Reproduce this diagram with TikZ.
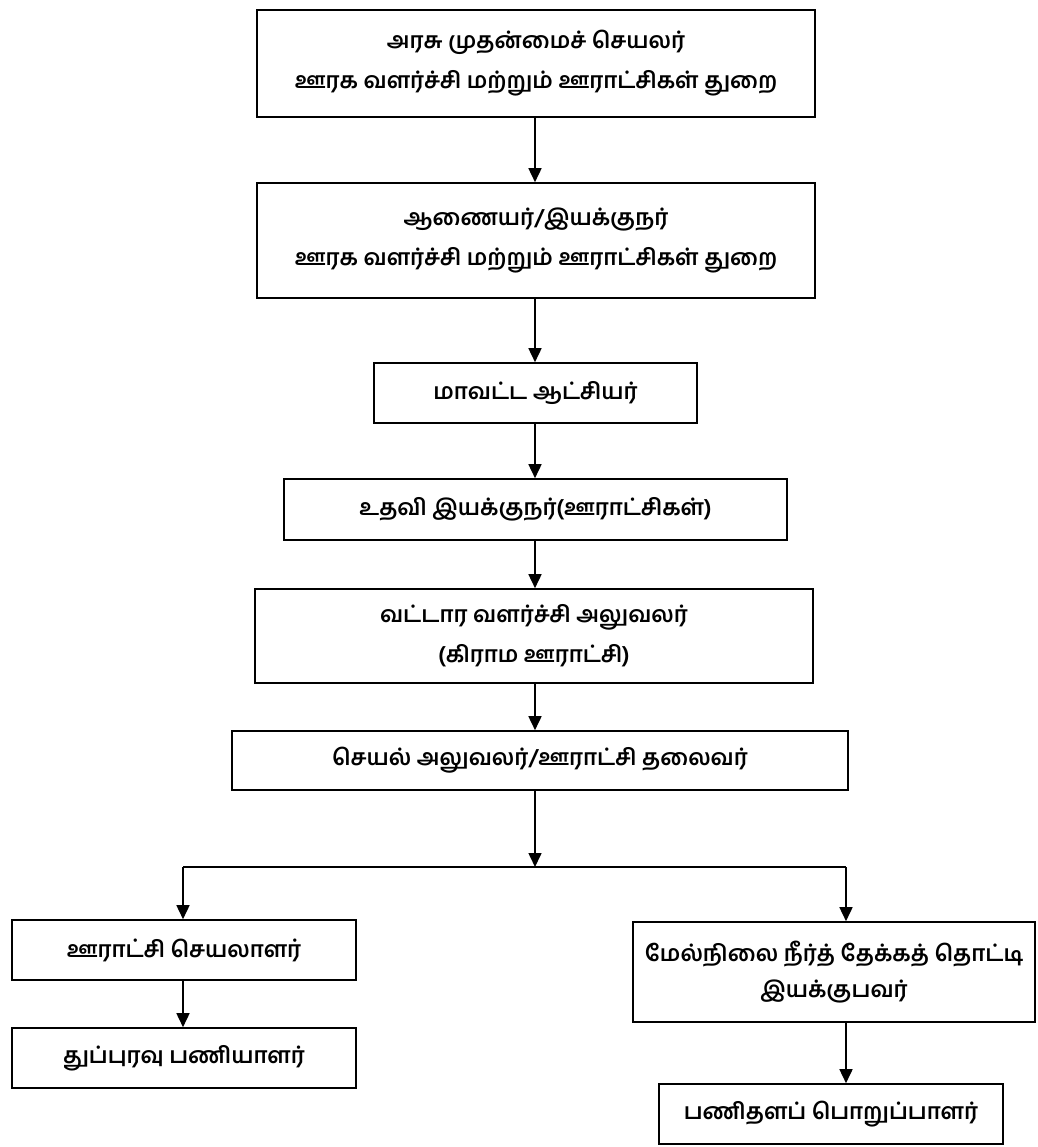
\documentclass[tikz,border=0pt]{standalone}
\usepackage{fontspec}
\setmainfont[Script=Tamil]{Hind Madurai}
\usetikzlibrary{arrows.meta}
\begin{document}
\begin{tikzpicture}[x=1pt,y=-1pt,
  box/.style={draw,line width=1.6pt,inner sep=0pt,align=center,
    font=\fontsize{22.5}{40}\selectfont\bfseries},
  conn/.style={line width=1.6pt,-{Triangle[length=14pt,width=13pt]}},
  plain/.style={line width=1.6pt}]
\useasboundingbox (0,0) rectangle (1037,1147);
\node[box,minimum width=558pt,minimum height=107pt] (b1) at (536,63.5)
  {அரசு முதன்மைச் செயலர்\\ஊரக வளர்ச்சி மற்றும் ஊராட்சிகள் துறை};
\node[box,minimum width=558pt,minimum height=115pt] (b2) at (536,240.5)
  {ஆணையர்/இயக்குநர்\\ஊரக வளர்ச்சி மற்றும் ஊராட்சிகள் துறை};
\node[box,minimum width=323pt,minimum height=60pt] (b3) at (535.5,393)
  {மாவட்ட ஆட்சியர்};
\node[box,minimum width=503pt,minimum height=61pt] (b4) at (535.5,509.5)
  {உதவி இயக்குநர்(ஊராட்சிகள்)};
\node[box,minimum width=558pt,minimum height=94pt] (b5) at (534,636)
  {வட்டார வளர்ச்சி அலுவலர்\\(கிராம ஊராட்சி)};
\node[box,minimum width=616pt,minimum height=59pt] (b6) at (540,760.5)
  {செயல் அலுவலர்/ஊராட்சி தலைவர்};
\node[box,minimum width=344pt,minimum height=60pt] (b7) at (184,950)
  {ஊராட்சி செயலாளர்};
\node[box,minimum width=402pt,minimum height=100pt,
  font=\fontsize{22.5}{36}\selectfont\bfseries] (b8) at (834,972)
  {மேல்நிலை நீர்த் தேக்கத் தொட்டி\\இயக்குபவர்};
\node[box,minimum width=344pt,minimum height=60pt] (b9) at (184,1058)
  {துப்புரவு பணியாளர்};
\node[box,minimum width=344pt,minimum height=60pt] (b10) at (831,1114)
  {பணிதளப் பொறுப்பாளர்};
\coordinate (j) at (535,867);
\coordinate (jl) at (183,867);
\coordinate (jr) at (846,867);
\draw[conn] (b1.south -| j) -- (b2.north -| j);
\draw[conn] (b2.south -| j) -- (b3.north -| j);
\draw[conn] (b3.south -| j) -- (b4.north -| j);
\draw[conn] (b4.south -| j) -- (b5.north -| j);
\draw[conn] (b5.south -| j) -- (b6.north -| j);
\draw[conn] (b6.south -| j) -- (j);
\draw[plain] (jl) -- (jr);
\draw[conn] (jl) -- (b7.north -| jl);
\draw[conn] (jr) -- (b8.north -| jr);
\draw[conn] (b7.south -| jl) -- (b9.north -| jl);
\draw[conn] (b8.south -| jr) -- (b10.north -| jr);
\end{tikzpicture}
\end{document}
